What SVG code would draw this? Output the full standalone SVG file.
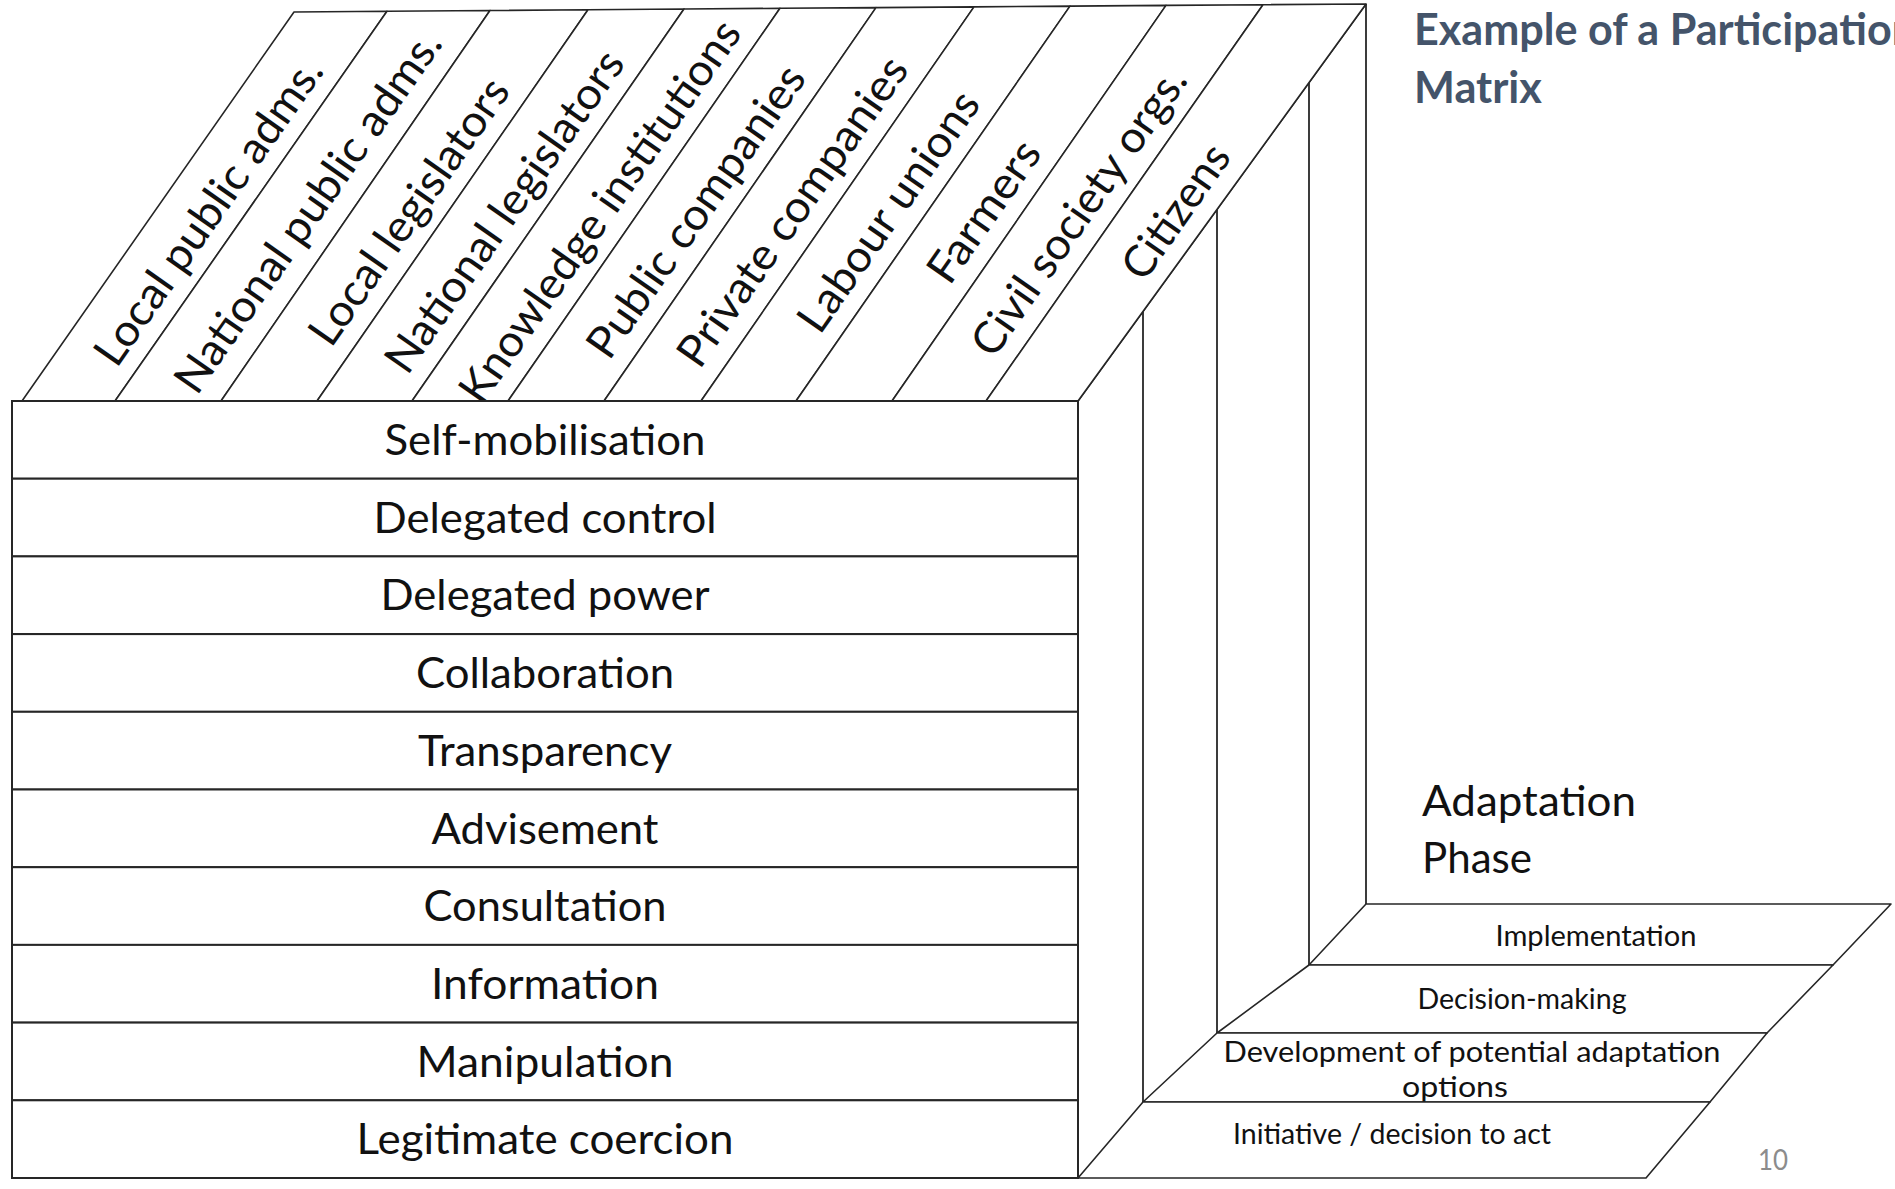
<svg xmlns="http://www.w3.org/2000/svg" width="1895" height="1189" viewBox="0 0 1895 1189">
<style>
.cell{fill:#fff;stroke:#262626;stroke-width:2}
.strip{fill:#fff;stroke:#262626;stroke-width:1.6;stroke-linejoin:round}
.ln{fill:none;stroke:#262626;stroke-width:1.8}
.t{font-family:Lato,"Liberation Sans",sans-serif;fill:#111;text-anchor:middle}
.rowt{font-size:42px}
.colt{font-size:44px}
.ph{font-size:28px}
.adapt{font-family:Lato,"Liberation Sans",sans-serif;fill:#111;font-size:42px}
.title{font-family:Lato,"Liberation Sans",sans-serif;font-weight:700;font-size:44px;fill:#44546A}
.pg{font-family:Lato,"Liberation Sans",sans-serif;font-size:29px;fill:#8c8c8c;text-anchor:middle}
</style>
<rect width="1895" height="1189" fill="#fff"/>

<g id="title">
<text class="title" x="1414" y="45" textLength="502" lengthAdjust="spacingAndGlyphs">Example of a Participation</text>
<text class="title" x="1414" y="103" textLength="128" lengthAdjust="spacingAndGlyphs">Matrix</text>
</g>

<g id="back-walls">
<line class="ln" x1="1078" y1="401" x2="1366" y2="4"/>
<line class="ln" x1="1143" y1="311" x2="1143" y2="1102"/>
<line class="ln" x1="1217" y1="209" x2="1217" y2="1033"/>
<line class="ln" x1="1309" y1="82" x2="1309" y2="965"/>
<line class="ln" x1="1366" y1="4" x2="1366" y2="904"/>
</g>

<g id="stakeholders">
<g id="col-local-public-adms"><polygon class="strip" points="22,401 115,401 387,11.3 294,12"/><text class="t colt" transform="translate(208.5 211.5) rotate(-55)" y="15" textLength="364" lengthAdjust="spacingAndGlyphs">Local public adms.</text></g>
<g id="col-national-public-adms"><polygon class="strip" points="115,401 221,401 490,10.5 387,11.3"/><text class="t colt" transform="translate(308 211.5) rotate(-55)" y="15" textLength="431" lengthAdjust="spacingAndGlyphs">National public adms.</text></g>
<g id="col-local-legislators"><polygon class="strip" points="221,401 317,401 588,9.8 490,10.5"/><text class="t colt" transform="translate(409 211.5) rotate(-55)" y="15" textLength="315" lengthAdjust="spacingAndGlyphs">Local legislators</text></g>
<g id="col-national-legislators"><polygon class="strip" points="317,401 412,401 684,9 588,9.8"/><text class="t colt" transform="translate(504.5 211.5) rotate(-55)" y="15" textLength="382" lengthAdjust="spacingAndGlyphs">National legislators</text></g>
<g id="col-knowledge-institutions"><polygon class="strip" points="412,401 508,401 780,8.3 684,9"/><text class="t colt" transform="translate(600 211.5) rotate(-55)" y="15" textLength="456" lengthAdjust="spacingAndGlyphs">Knowledge institutions</text></g>
<g id="col-public-companies"><polygon class="strip" points="508,401 604,401 876,7.6 780,8.3"/><text class="t colt" transform="translate(696 211.5) rotate(-55)" y="15" textLength="346" lengthAdjust="spacingAndGlyphs">Public companies</text></g>
<g id="col-private-companies"><polygon class="strip" points="604,401 701,401 974,6.9 876,7.6"/><text class="t colt" transform="translate(792.5 211.5) rotate(-55)" y="15" textLength="367" lengthAdjust="spacingAndGlyphs">Private companies</text></g>
<g id="col-labour-unions"><polygon class="strip" points="701,401 796,401 1070,6.1 974,6.9"/><text class="t colt" transform="translate(888.5 211.5) rotate(-55)" y="15" textLength="283" lengthAdjust="spacingAndGlyphs">Labour unions</text></g>
<g id="col-farmers"><polygon class="strip" points="796,401 892,401 1166,5.4 1070,6.1"/><text class="t colt" transform="translate(984 211.5) rotate(-55)" y="15" textLength="163" lengthAdjust="spacingAndGlyphs">Farmers</text></g>
<g id="col-civil-society-orgs"><polygon class="strip" points="892,401 986,401 1263,4.7 1166,5.4"/><text class="t colt" transform="translate(1079 211.5) rotate(-55)" y="15" textLength="341" lengthAdjust="spacingAndGlyphs">Civil society orgs.</text></g>
<g id="col-citizens"><polygon class="strip" points="986,401 1078,401 1366,4 1263,4.7"/><text class="t colt" transform="translate(1176 211.5) rotate(-55)" y="15" textLength="154" lengthAdjust="spacingAndGlyphs">Citizens</text></g>
</g>

<g id="participation-levels">
<g id="row-self-mobilisation"><rect class="cell" x="12" y="401" width="1066" height="77.7"/><text class="t rowt" x="545" y="455" textLength="321" lengthAdjust="spacingAndGlyphs">Self-mobilisation</text></g>
<g id="row-delegated-control"><rect class="cell" x="12" y="478.7" width="1066" height="77.7"/><text class="t rowt" x="545" y="532.7" textLength="343" lengthAdjust="spacingAndGlyphs">Delegated control</text></g>
<g id="row-delegated-power"><rect class="cell" x="12" y="556.4" width="1066" height="77.7"/><text class="t rowt" x="545" y="610.4" textLength="329" lengthAdjust="spacingAndGlyphs">Delegated power</text></g>
<g id="row-collaboration"><rect class="cell" x="12" y="634.1" width="1066" height="77.7"/><text class="t rowt" x="545" y="688.1" textLength="258" lengthAdjust="spacingAndGlyphs">Collaboration</text></g>
<g id="row-transparency"><rect class="cell" x="12" y="711.8" width="1066" height="77.7"/><text class="t rowt" x="545" y="765.8" textLength="254" lengthAdjust="spacingAndGlyphs">Transparency</text></g>
<g id="row-advisement"><rect class="cell" x="12" y="789.5" width="1066" height="77.7"/><text class="t rowt" x="545" y="843.5" textLength="227" lengthAdjust="spacingAndGlyphs">Advisement</text></g>
<g id="row-consultation"><rect class="cell" x="12" y="867.2" width="1066" height="77.7"/><text class="t rowt" x="545" y="921.2" textLength="243" lengthAdjust="spacingAndGlyphs">Consultation</text></g>
<g id="row-information"><rect class="cell" x="12" y="944.9" width="1066" height="77.7"/><text class="t rowt" x="545" y="998.9" textLength="228" lengthAdjust="spacingAndGlyphs">Information</text></g>
<g id="row-manipulation"><rect class="cell" x="12" y="1022.6" width="1066" height="77.7"/><text class="t rowt" x="545" y="1076.6" textLength="257" lengthAdjust="spacingAndGlyphs">Manipulation</text></g>
<g id="row-legitimate-coercion"><rect class="cell" x="12" y="1100.3" width="1066" height="77.7"/><text class="t rowt" x="545" y="1154.3" textLength="377" lengthAdjust="spacingAndGlyphs">Legitimate coercion</text></g>
</g>

<g id="adaptation-phases">
<g id="phase-label"><text class="adapt" x="1422" y="816" textLength="214" lengthAdjust="spacingAndGlyphs">Adaptation</text><text class="adapt" x="1422" y="873" textLength="110" lengthAdjust="spacingAndGlyphs">Phase</text></g>
<g id="phase-implementation"><polygon class="strip" points="1366,904 1891,904 1833,965 1309,965"/><text class="t ph" x="1596" y="946" textLength="201" lengthAdjust="spacingAndGlyphs">Implementation</text></g>
<g id="phase-decision-making"><polygon class="strip" points="1309,965 1833,965 1767,1033 1217,1033"/><text class="t ph" x="1522" y="1009" textLength="209" lengthAdjust="spacingAndGlyphs">Decision-making</text></g>
<g id="phase-development"><polygon class="strip" points="1217,1033 1767,1033 1710,1102 1143,1102"/><text class="t ph" x="1472" y="1062" textLength="497" lengthAdjust="spacingAndGlyphs">Development of potential adaptation</text><text class="t ph" x="1455" y="1097" textLength="106" lengthAdjust="spacingAndGlyphs">options</text></g>
<g id="phase-initiative"><polygon class="strip" points="1143,1102 1710,1102 1646,1178 1078,1178"/><text class="t ph" x="1392" y="1144" textLength="318" lengthAdjust="spacingAndGlyphs">Initiative / decision to act</text></g>
</g>

<g id="connectors"></g>

<text class="pg" x="1773" y="1170" textLength="30" lengthAdjust="spacingAndGlyphs">10</text>
</svg>
